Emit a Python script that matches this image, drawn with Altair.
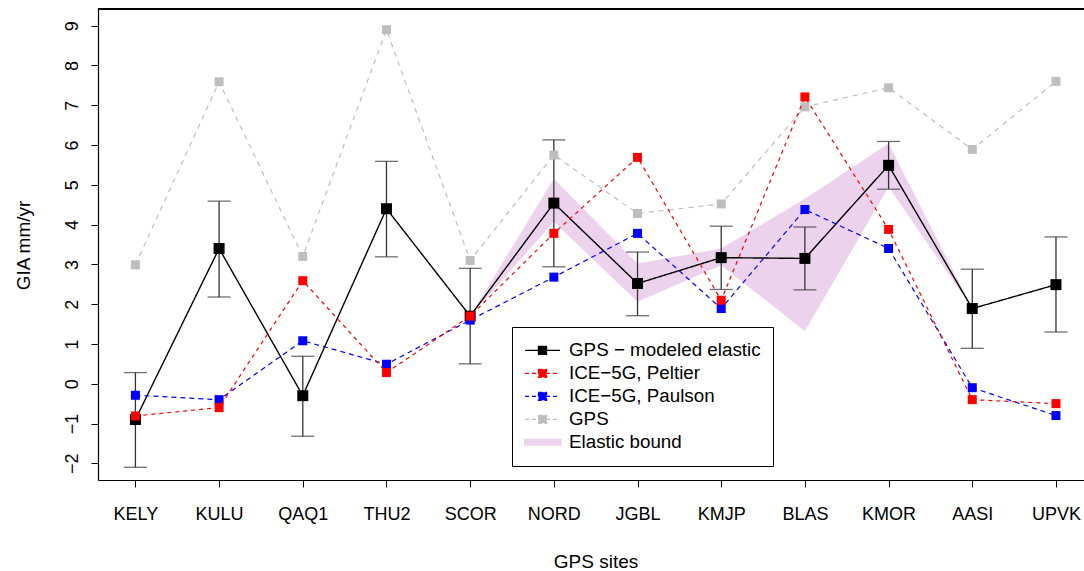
import altair as alt
import pandas as pd

sites = ["KELY", "KULU", "QAQ1", "THU2", "SCOR", "NORD", "JGBL", "KMJP", "BLAS", "KMOR", "AASI", "UPVK"]
gps_model = [-0.90, 3.40, -0.30, 4.40, 1.70, 4.54, 2.52, 3.17, 3.15, 5.49, 1.89, 2.49]
gps_model_hi = [0.28, 4.59, 0.69, 5.59, 2.90, 6.13, 3.31, 3.96, 3.94, 6.09, 2.88, 3.69]
gps_model_lo = [-2.10, 2.18, -1.32, 3.19, 0.50, 2.94, 1.71, 2.37, 2.36, 4.89, 0.89, 1.30]
peltier = [-0.81, -0.60, 2.59, 0.28, 1.70, 3.78, 5.69, 2.10, 7.21, 3.88, -0.40, -0.50]
paulson = [-0.29, -0.40, 1.08, 0.49, 1.60, 2.68, 3.78, 1.89, 4.38, 3.40, -0.10, -0.80]
gps = [2.99, 7.59, 3.20, 8.90, 3.10, 5.75, 4.28, 4.52, 6.96, 7.44, 5.89, 7.60]
bound_sites = ["SCOR", "NORD", "JGBL", "KMJP", "BLAS", "KMOR", "AASI"]
bound_hi = [1.70, 5.15, 3.02, 3.40, 4.65, 6.04, 1.89]
bound_lo = [1.70, 4.07, 2.06, 2.98, 1.32, 4.95, 1.89]

series_names = ["GPS \u2212 modeled elastic", "ICE\u22125G, Peltier", "ICE\u22125G, Paulson", "GPS", "Elastic bound"]
series_colors = ["#000000", "#FF0000", "#0000FF", "#BEBEBE", "#ECD2EC"]

FONT = "Liberation Sans"
X_DOMAIN = [0.553, 12.335]
Y_DOMAIN = [-2.42, 9.42]

idx = list(range(1, len(sites) + 1))
main = pd.DataFrame({"idx": idx, "site": sites, "lo": gps_model_lo, "hi": gps_model_hi})
long_rows = []
for name, vals in zip(series_names[:4], [gps_model, peltier, paulson, gps]):
    for i, s, v in zip(idx, sites, vals):
        long_rows.append({"idx": i, "site": s, "value": v, "series": name})
long_df = pd.DataFrame(long_rows)
bound_df = pd.DataFrame({
    "idx": [sites.index(s) + 1 for s in bound_sites],
    "hi": bound_hi, "lo": bound_lo, "series": series_names[4],
})
legend_df = pd.DataFrame({"series": series_names, "idx": [1] * 5, "value": [0.0] * 5})

label_expr = "[" + ",".join("'%s'" % s for s in sites) + "][datum.value - 1]"

x_enc = alt.X(
    "idx:Q",
    scale=alt.Scale(domain=X_DOMAIN, nice=False, zero=False),
    title="GPS sites",
    axis=alt.Axis(
        values=idx, labelExpr=label_expr, grid=False, tickSize=7, tickColor="black",
        domainColor="black", domainWidth=1.2, tickWidth=1, labelFont=FONT, labelFontSize=18,
        labelColor="black", labelPadding=18, labelBaseline="top", titleFont=FONT,
        titleFontSize=19, titleFontWeight="normal", titleColor="black",
        titleX=497.5, titleY=81, titleBaseline="middle", titleAlign="center",
    ),
)


def y_enc(field):
    return alt.Y(
        field,
        scale=alt.Scale(domain=Y_DOMAIN, nice=False, zero=False),
        title="GIA mm/yr",
        axis=alt.Axis(
            values=list(range(-2, 10)), grid=False, tickSize=7, tickColor="black",
            domainColor="black", domainWidth=1.2, labelFont=FONT, labelFontSize=18,
            labelColor="black", labelAngle=270, labelAlign="center", labelBaseline="bottom",
            labelPadding=10, titleFont=FONT, titleFontSize=19, titleFontWeight="normal",
            titleColor="black", titleAngle=270, titleX=-75, titleY=236,
            titleBaseline="middle", titleAlign="center",
        ),
    )


# legend symbols: a line with a square on it, or a thick band for the elastic bound
SQ = "M-1,0H1M-0.23,-0.23H0.23V0.23H-0.23Z"
BAR = "M-1.05,-0.16H1.05V0.16H-1.05Z"
sym_shapes = [SQ, SQ, SQ, SQ, BAR]
sym_dashes = [[1, 0], [4, 3], [4, 3], [4, 3], [1, 0]]

legend = alt.Legend(
    orient="none", legendX=414, legendY=318, title=None, direction="vertical",
    labelFont=FONT, labelFontSize=18.8, labelColor="black", labelLimit=400,
    symbolSize=1225, symbolStrokeWidth=1.3, symbolOpacity=1,
    clipHeight=22.6, padding=12, rowPadding=0, labelOffset=8,
    strokeColor="black", fillColor="white",
)

color_of = dict(zip(series_names, series_colors))

area = alt.Chart(bound_df).mark_area(opacity=1, color=color_of[series_names[4]]).encode(
    x=x_enc, y=y_enc("hi:Q"), y2="lo:Q",
)

errbar = alt.Chart(main).mark_errorbar(
    ticks=True, size=23, thickness=1.3, color="#333333", orient="vertical",
).encode(x=x_enc, y=y_enc("lo:Q"), y2="hi:Q")

styles = {
    series_names[0]: dict(dash=[1, 0], width=1.4, size=121),
    series_names[3]: dict(dash=[5, 5], width=1.2, size=81),
    series_names[2]: dict(dash=[5, 4], width=1.2, size=81),
    series_names[1]: dict(dash=[4, 4], width=1.2, size=81),
}

layers = [area, errbar]
for name in [series_names[0], series_names[3], series_names[2], series_names[1]]:
    st = styles[name]
    base = alt.Chart(long_df).transform_filter(alt.datum.series == name)
    line = base.mark_line(strokeWidth=st["width"], strokeDash=st["dash"], color=color_of[name]).encode(
        x=x_enc, y=y_enc("value:Q"),
    )
    pts = base.mark_point(shape="square", filled=True, opacity=1, size=st["size"], color=color_of[name]).encode(
        x=x_enc, y=y_enc("value:Q"),
    )
    layers += [line, pts]

legend_layer = alt.Chart(legend_df).mark_point(filled=True, opacity=0, size=1).encode(
    x=x_enc, y=y_enc("value:Q"),
    fill=alt.Fill("series:N", scale=alt.Scale(domain=series_names, range=series_colors), legend=legend),
    stroke=alt.Stroke("series:N", scale=alt.Scale(domain=series_names, range=series_colors), legend=legend),
    shape=alt.Shape("series:N", scale=alt.Scale(domain=series_names, range=sym_shapes), legend=legend),
    strokeDash=alt.StrokeDash("series:N", scale=alt.Scale(domain=series_names, range=sym_dashes), legend=legend),
)
layers.append(legend_layer)

top_border = alt.Chart(main).mark_rule(color="black", strokeWidth=1.2).encode(
    y=alt.datum(Y_DOMAIN[1]),
)
layers.append(top_border)

chart = alt.layer(*layers).properties(
    width=986, height=471,
    autosize=alt.AutoSizeParams(type="none"),
    padding={"left": 98, "top": 9, "right": 0, "bottom": 91},
    background="white",
).configure_view(stroke=None)

chart.save("out.html", embed_options={"renderer": "svg", "actions": False})
